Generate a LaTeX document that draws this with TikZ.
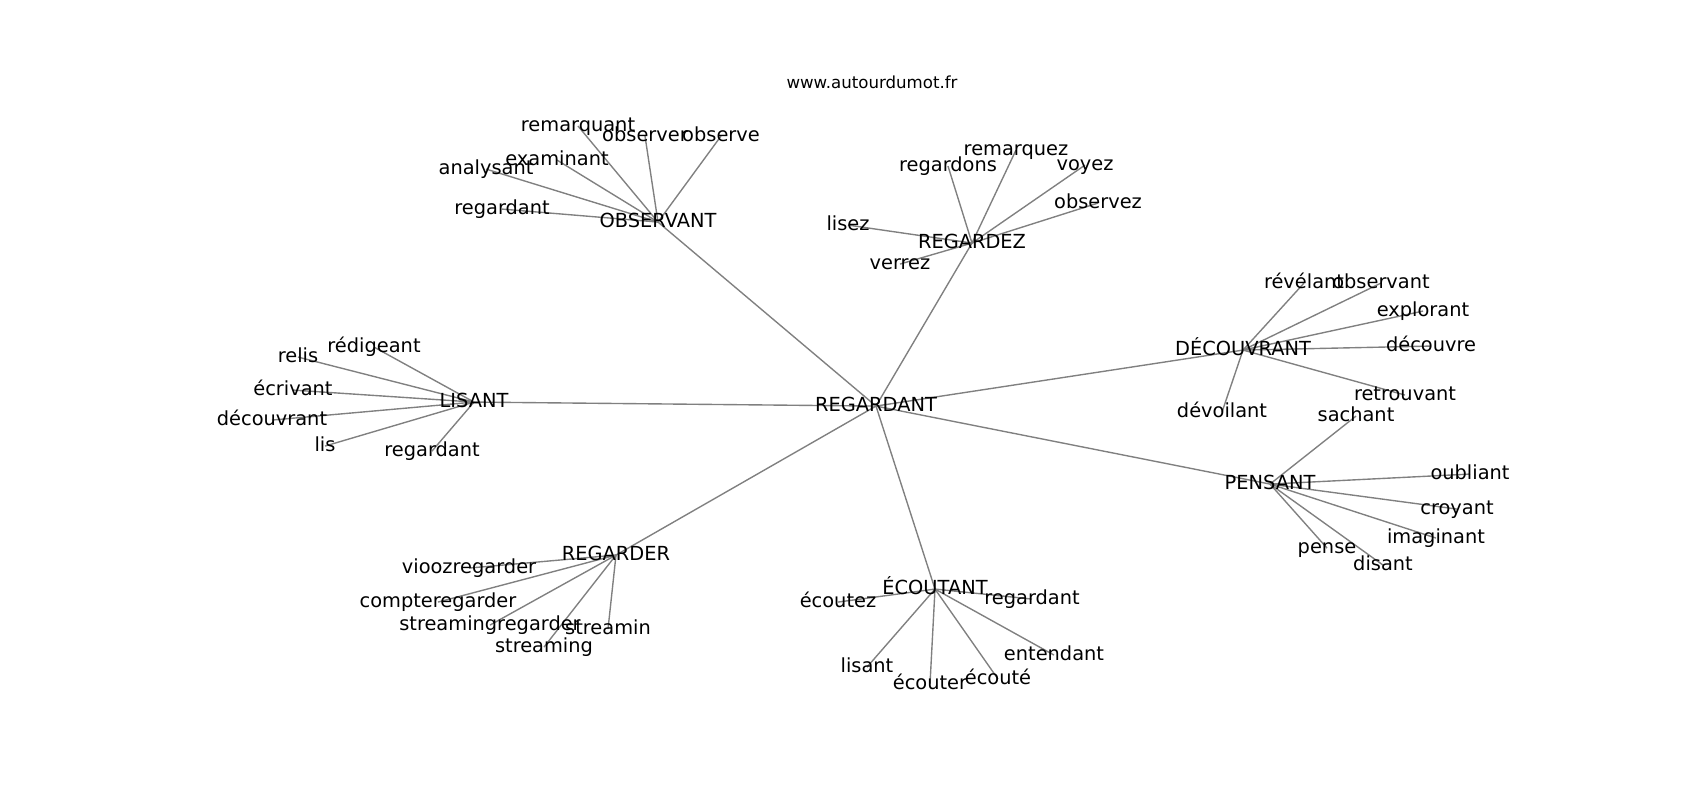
\documentclass[tikz,border=0pt]{standalone}
\usepackage{fontspec}
\setmainfont{DejaVu Sans}
\usepackage{tikz}
\usetikzlibrary{backgrounds}

\begin{document}
\begin{tikzpicture}[x=0.01in, y=-0.01in,
    word/.style={font=\fontsize{14}{16}\selectfont, inner sep=0pt,
        text height=0.73em, text depth=0pt, anchor=center, yshift=-1.5pt},
    edge/.style={gray, line width=1pt}]
    \useasboundingbox (0,0) rectangle (1700,800);
    \node[font=\fontsize{12}{14}\selectfont, inner sep=0pt, text height=0.73em,
        text depth=0pt] (title) at (872,83) {www.autourdumot.fr};
    % centre
    \node[word] (regardant) at (876,404) {REGARDANT};
    % OBSERVANT
    \node[word] (obs) at (658,220) {OBSERVANT};
    \node[word] (remarquant) at (578,124) {remarquant};
    \node[word] (observer) at (645,134) {observer};
    \node[word] (observe) at (721,134) {observe};
    \node[word] (examinant) at (557,158) {examinant};
    \node[word] (analysant) at (486,167) {analysant};
    \node[word] (obsregardant) at (502,207) {regardant};
    % REGARDEZ
    \node[word] (regz) at (972,241) {REGARDEZ};
    \node[word] (remarquez) at (1016,148) {remarquez};
    \node[word] (regardons) at (948,164) {regardons};
    \node[word] (voyez) at (1085,163) {voyez};
    \node[word] (observez) at (1098,201) {observez};
    \node[word] (lisez) at (848,223) {lisez};
    \node[word] (verrez) at (900,262) {verrez};
    % DÉCOUVRANT
    \node[word] (decouv) at (1243,348) {DÉCOUVRANT};
    \node[word] (revelant) at (1304,281) {révélant};
    \node[word] (observant) at (1381,281) {observant};
    \node[word] (explorant) at (1423,309) {explorant};
    \node[word] (decouvre) at (1431,344) {découvre};
    \node[word] (retrouvant) at (1405,393) {retrouvant};
    \node[word] (devoilant) at (1222,410) {dévoilant};
    % PENSANT
    \node[word] (pensant) at (1270,482) {PENSANT};
    \node[word] (sachant) at (1356,414) {sachant};
    \node[word] (oubliant) at (1470,472) {oubliant};
    \node[word] (croyant) at (1457,507) {croyant};
    \node[word] (imaginant) at (1436,536) {imaginant};
    \node[word] (pense) at (1327,546) {pense};
    \node[word] (disant) at (1383,563) {disant};
    % LISANT
    \node[word] (lisant) at (474,400) {LISANT};
    \node[word] (relis) at (298,355) {relis};
    \node[word] (redigeant) at (374,345) {rédigeant};
    \node[word] (ecrivant) at (293,388) {écrivant};
    \node[word] (decouvrant) at (272,418) {découvrant};
    \node[word] (lis) at (325,444) {lis};
    \node[word] (lisregardant) at (432,449) {regardant};
    % REGARDER
    \node[word] (regarder) at (616,553) {REGARDER};
    \node[word] (viooz) at (469,566) {vioozregarder};
    \node[word] (compte) at (438,600) {compteregarder};
    \node[word] (streamreg) at (490,623) {streamingregarder};
    \node[word] (streamin) at (608,627) {streamin};
    \node[word] (streaming) at (544,645) {streaming};
    % ÉCOUTANT
    \node[word] (ecoutant) at (935,587) {ÉCOUTANT};
    \node[word] (ecoutez) at (838,600) {écoutez};
    \node[word] (ecoregardant) at (1032,597) {regardant};
    \node[word] (lisantw) at (867,665) {lisant};
    \node[word] (ecouter) at (930,682) {écouter};
    \node[word] (ecoute) at (998,677) {écouté};
    \node[word] (entendant) at (1054,653) {entendant};

    \begin{scope}[on background layer]
        \foreach \hub in {obs, regz, decouv, pensant, lisant, regarder, ecoutant}
            \draw[edge] (regardant.center) -- (\hub.center);
        \foreach \a/\b in {obs/remarquant, obs/observer, obs/observe, obs/examinant,
                obs/analysant, obs/obsregardant,
                regz/remarquez, regz/regardons, regz/voyez, regz/observez,
                regz/lisez, regz/verrez,
                decouv/revelant, decouv/observant, decouv/explorant,
                decouv/decouvre, decouv/retrouvant, decouv/devoilant,
                pensant/sachant, pensant/oubliant, pensant/croyant,
                pensant/imaginant, pensant/pense, pensant/disant,
                lisant/relis, lisant/redigeant, lisant/ecrivant,
                lisant/decouvrant, lisant/lis, lisant/lisregardant,
                regarder/viooz, regarder/compte, regarder/streamreg,
                regarder/streamin, regarder/streaming,
                ecoutant/ecoutez, ecoutant/ecoregardant, ecoutant/lisantw,
                ecoutant/ecouter, ecoutant/ecoute, ecoutant/entendant}
            \draw[edge] (\a.center) -- (\b.center);
    \end{scope}
\end{tikzpicture}
\end{document}
